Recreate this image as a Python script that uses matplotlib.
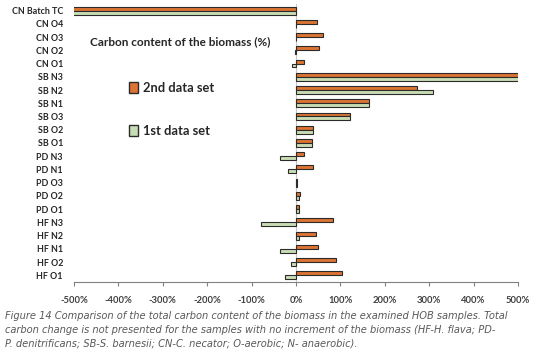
import numpy as np
import matplotlib
matplotlib.use("Agg")
import matplotlib.pyplot as plt
from matplotlib.patches import Patch

plt.rcParams["font.family"] = ["Lato", "DejaVu Sans"]

categories = ["CN Batch TC", "CN O4", "CN O3", "CN O2", "CN O1",
              "SB N3", "SB N2", "SB N1", "SB O3", "SB O2", "SB O1",
              "PD N3", "PD N1", "PD O3", "PD O2", "PD O1",
              "HF N3", "HF N2", "HF N1", "HF O2", "HF O1"]
# carbon content change (%) - values past the axis limits are cut off
set2 = [-700, 47, 60, 51, 19,
        560, 272, 165, 121, 38, 35,
        19, 38, 3, 8, 6,
        84, 44, 49, 89, 104]
set1 = [-700, -1, 0, -2, -8,
        560, 308, 165, 121, 38, 35,
        -36, -18, 2, 7, 6,
        -78, 6, -37, -12, -25]
ticks = [-500, -400, -300, -200, -100, 0, 100, 200, 300, 400, 500]

ORANGE = "#DC7433"
GREEN = "#C9DDB5"
EDGE = "#2b2b2b"
TXT = "#404040"

fig = plt.figure(figsize=(5.54, 3.57), dpi=100)
ax = fig.add_axes([0.1336, 0.21, 0.8014, 0.779])

y = np.arange(len(categories))
h = 0.3
ax.barh(y - h / 2, set2, height=h, color=ORANGE, edgecolor=EDGE, linewidth=0.8)
ax.barh(y + h / 2, set1, height=h, color=GREEN, edgecolor=EDGE, linewidth=0.8)

ax.set_xlim(-500, 500)
ax.set_ylim(len(categories) - 0.5, -0.5)
ax.axvline(0, color="#c8c8c8", linewidth=0.8, zorder=0)

ax.set_yticks(y)
ax.set_yticklabels(categories, fontsize=6.4, fontweight="bold", color="#262626")
ax.tick_params(axis="y", length=0, pad=8)
ax.set_xticks(ticks)
ax.set_xticklabels([f"{t}%" for t in ticks], fontsize=6.8, fontweight="bold", color=TXT)
ax.tick_params(axis="x", length=3, color="#808080", pad=7)

for s in ["top", "right", "left"]:
    ax.spines[s].set_visible(False)
ax.spines["bottom"].set_color("#808080")

fig.text(90 / 554, 1 - 42 / 357, "Carbon content of the biomass (%)",
         fontsize=8.5, fontweight="bold", color="#262626", va="center")
handles = [Patch(facecolor=ORANGE, edgecolor=EDGE, label="2nd data set"),
           Patch(facecolor=GREEN, edgecolor=EDGE, label="1st data set")]
leg = fig.legend(handles=handles, loc="upper left",
                 bbox_to_anchor=(117 / 554, 1 - 70 / 357),
                 frameon=False, labelspacing=2.4, handlelength=0.7,
                 handleheight=0.9, handletextpad=0.4,
                 prop={"weight": "bold", "size": 9.3})
for t in leg.get_texts():
    t.set_color("#262626")

caption = ("Figure 14 Comparison of the total carbon content of the biomass in the examined HOB samples. Total\n"
           "carbon change is not presented for the samples with no increment of the biomass (HF-H. flava; PD-\n"
           "P. denitrificans; SB-S. barnesii; CN-C. necator; O-aerobic; N- anaerobic).")
fig.text(5 / 554, 1 - 311 / 357, caption, fontsize=7.1, style="italic",
         family="DejaVu Sans", color="#595959", va="top", linespacing=1.45)

fig.savefig("out.png", dpi=100)
